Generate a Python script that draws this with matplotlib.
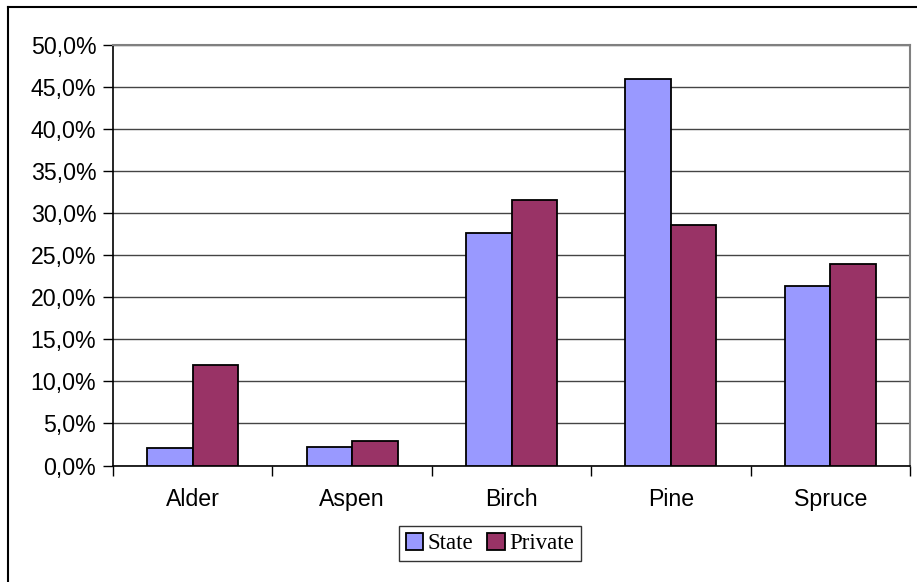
"""
plot.py

Share of tree species by ownership type (State vs Private).
"""

import numpy as np
import matplotlib.pyplot as plt
from matplotlib.lines import Line2D
from matplotlib.ticker import FuncFormatter

species = ['Alder', 'Aspen', 'Birch', 'Pine', 'Spruce']
state = [2.1, 2.2, 27.6, 46.0, 21.4]
private = [11.9, 2.9, 31.6, 28.6, 24.0]
yticks = np.arange(0, 55, 5)

fig = plt.figure(figsize=(9.17, 5.82), dpi=100)
ax = fig.add_axes([113/917, 116.5/582, 797/917, 420.5/582])

x = np.arange(len(species))
w = 0.2857
ax.bar(x - w/2, state, w, color='#9999FF', edgecolor='black', linewidth=1.3,
       label='State', zorder=3)
ax.bar(x + w/2, private, w, color='#993366', edgecolor='black', linewidth=1.3,
       label='Private', zorder=3)

ax.set_xlim(-0.5, len(species) - 0.5)
ax.set_ylim(0, 50)
ax.set_yticks(yticks)
ax.yaxis.set_major_formatter(FuncFormatter(lambda v, p: ('%.1f%%' % v).replace('.', ',')))
ax.yaxis.grid(True, color='#444444', linewidth=1.0, zorder=0)
ax.set_axisbelow(True)

ax.set_xticks(x)
ax.set_xticklabels(species)
ax.set_xticks(np.arange(-0.5, len(species), 1), minor=True)
ax.tick_params(axis='x', which='major', length=0, pad=16)
ax.tick_params(axis='x', which='minor', length=7, width=1, direction='out', color='black')
ax.tick_params(axis='y', length=7, width=1, direction='out', pad=5)

for lab in ax.get_xticklabels() + ax.get_yticklabels():
    lab.set_family('Liberation Sans')
    lab.set_fontsize(16.7)

ax.spines['left'].set_color('black')
ax.spines['bottom'].set_color('black')
ax.spines['left'].set_linewidth(1.2)
ax.spines['bottom'].set_linewidth(1.2)
ax.spines['top'].set_color('#808080')
ax.spines['right'].set_color('#808080')
ax.spines['top'].set_linewidth(1.5)
ax.spines['right'].set_linewidth(1.5)

leg = fig.legend(loc='center', bbox_to_anchor=(490/917, 1 - 543.5/582), ncol=2,
                 prop={'family': 'Liberation Serif', 'size': 16.5},
                 frameon=True, fancybox=False, edgecolor='black',
                 handlelength=0.75, handleheight=0.75, handletextpad=0.2,
                 columnspacing=0.6, borderpad=0.3, borderaxespad=0)
leg.get_frame().set_linewidth(1.0)

# outer chart border (cropped on right and bottom)
fig.add_artist(Line2D([8/917, 1], [1 - 6.5/582, 1 - 6.5/582], color='black', linewidth=1.5))
fig.add_artist(Line2D([8/917, 8/917], [0, 1 - 6.5/582], color='black', linewidth=1.5))

fig.savefig('out.png', dpi=100)
